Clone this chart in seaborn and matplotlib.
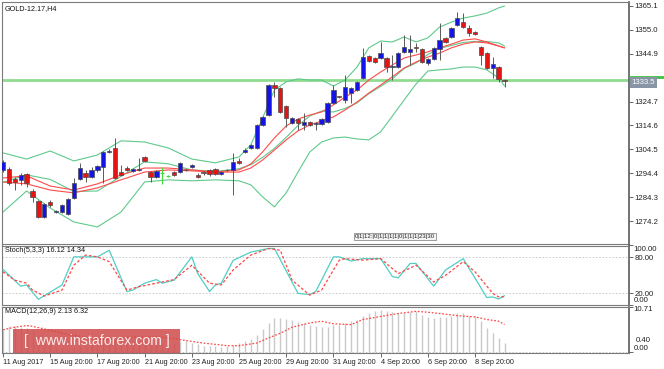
import matplotlib
matplotlib.use("Agg")
import matplotlib.pyplot as plt
import matplotlib.transforms as mtransforms
from matplotlib.patches import Rectangle
import numpy as np
import seaborn as sns

W, H = 664, 369

# H4 candles, bar index 0..85
opens = [1295.8, 1296.2, 1292.0, 1291.6, 1294.1, 1286.9, 1282.7, 1275.9, 1282.3, 1278.0,
         1278.0, 1277.2, 1284.0, 1292.0, 1294.5, 1292.8, 1295.8, 1297.1, 1303.4, 1305.1,
         1295.0, 1296.6, 1295.4, 1295.8, 1301.3, 1295.0, 1292.8, 1294.5, 1293.3, 1295.0,
         1295.0, 1295.8, 1297.1, 1293.7, 1295.0, 1295.8, 1296.2, 1294.1, 1295.6, 1295.8,
         1299.6, 1303.4, 1305.1, 1305.1, 1314.8, 1319.0, 1331.7, 1330.5, 1322.8, 1315.7,
         1317.4, 1314.8, 1316.1, 1315.2, 1315.2, 1316.1, 1324.1, 1326.9, 1325.4, 1328.3,
         1329.6, 1334.7, 1344.0, 1343.1, 1343.1, 1343.1, 1339.3, 1339.3, 1345.7, 1345.7,
         1347.8, 1346.9, 1341.0, 1342.7, 1346.9, 1351.6, 1352.0, 1357.1, 1358.3, 1355.8,
         1354.1, 1347.8, 1345.2, 1338.9, 1339.3, 1333.8]
highs = [1300.0, 1297.1, 1292.8, 1294.5, 1294.5, 1287.8, 1283.1, 1281.9, 1283.1, 1278.9,
         1281.4, 1284.0, 1292.4, 1298.8, 1295.8, 1297.1, 1297.9, 1303.8, 1304.7, 1309.3,
         1297.9, 1297.5, 1296.6, 1300.9, 1301.7, 1295.4, 1295.8, 1297.1, 1293.7, 1295.4,
         1299.2, 1296.2, 1298.3, 1294.5, 1295.4, 1296.2, 1296.6, 1295.4, 1296.2, 1303.0,
         1300.9, 1305.1, 1306.8, 1315.2, 1318.6, 1332.1, 1333.0, 1330.9, 1323.3, 1318.2,
         1317.8, 1319.9, 1316.5, 1316.1, 1317.8, 1324.5, 1331.7, 1327.1, 1335.9, 1330.9,
         1333.4, 1347.4, 1344.4, 1343.5, 1349.9, 1343.5, 1344.4, 1345.7, 1352.8, 1352.8,
         1349.5, 1347.4, 1343.1, 1347.8, 1357.9, 1352.0, 1356.2, 1362.6, 1362.1, 1357.1,
         1354.5, 1348.2, 1345.7, 1343.5, 1339.7, 1334.3]
lows = [1295.0, 1289.5, 1287.3, 1289.5, 1288.6, 1282.3, 1275.5, 1275.5, 1280.2, 1277.6,
        1277.6, 1276.8, 1283.5, 1291.6, 1290.7, 1292.4, 1295.0, 1290.3, 1303.0, 1292.0,
        1293.3, 1295.4, 1295.0, 1295.4, 1299.2, 1290.7, 1292.4, 1289.9, 1292.8, 1293.3,
        1294.5, 1295.4, 1296.6, 1292.4, 1293.7, 1293.3, 1293.7, 1293.7, 1295.4, 1285.2,
        1298.3, 1303.0, 1304.7, 1304.7, 1314.4, 1318.6, 1326.6, 1319.9, 1314.0, 1315.2,
        1312.7, 1312.7, 1314.4, 1312.7, 1314.8, 1315.7, 1323.7, 1326.2, 1324.1, 1324.1,
        1329.2, 1334.3, 1341.4, 1341.0, 1342.7, 1337.2, 1333.8, 1338.9, 1345.2, 1340.2,
        1345.7, 1341.0, 1340.2, 1342.3, 1342.3, 1349.5, 1351.6, 1356.6, 1355.8, 1352.4,
        1352.8, 1340.2, 1338.5, 1334.7, 1333.0, 1330.9]
closes = [1299.2, 1290.3, 1290.7, 1293.7, 1290.3, 1284.4, 1275.9, 1281.4, 1281.0, 1278.5,
          1281.0, 1283.5, 1290.3, 1296.6, 1292.8, 1295.8, 1297.5, 1303.4, 1303.8, 1292.4,
          1293.7, 1295.8, 1296.2, 1296.0, 1299.6, 1292.8, 1295.4, 1294.5, 1293.3, 1293.7,
          1298.8, 1295.6, 1297.9, 1292.8, 1294.5, 1294.1, 1294.1, 1295.0, 1295.8, 1299.2,
          1298.8, 1304.2, 1306.4, 1314.8, 1318.2, 1331.7, 1330.5, 1320.3, 1317.8, 1317.8,
          1315.7, 1316.1, 1314.8, 1315.4, 1317.4, 1324.1, 1329.6, 1326.6, 1330.9, 1330.5,
          1333.0, 1343.5, 1341.9, 1341.4, 1345.2, 1339.3, 1339.7, 1345.2, 1347.8, 1346.9,
          1347.4, 1341.4, 1342.7, 1347.4, 1350.7, 1349.9, 1355.8, 1360.0, 1356.2, 1353.7,
          1353.3, 1344.4, 1338.9, 1340.6, 1334.3, 1333.5]

# Bollinger bands and moving averages, read at these bars
line_idx = [0, 4, 8, 12, 16, 20, 24, 28, 32, 36, 40, 42, 44, 46, 48, 50, 52, 54, 56, 58,
            60, 62, 64, 66, 68, 70, 72, 74, 76, 78, 80, 82, 84, 85]
bb_upper = [1303.0, 1300.4, 1303.8, 1299.6, 1302.1, 1308.1, 1307.6, 1305.1, 1300.4, 1298.8,
            1301.3, 1306.4, 1317.8, 1329.6, 1333.0, 1334.3, 1333.8, 1333.8, 1331.3, 1333.8,
            1339.3, 1347.4, 1350.3, 1349.9, 1352.0, 1349.9, 1351.6, 1356.2, 1358.3, 1360.0,
            1360.9, 1362.1, 1364.3, 1365.1]
bb_middle = [1290.5, 1293.7, 1291.8, 1286.7, 1286.9, 1293.1, 1299.2, 1298.4, 1295.8, 1295.2,
             1296.3, 1298.0, 1301.1, 1304.9, 1309.6, 1314.6, 1318.6, 1320.7, 1320.3, 1321.8,
             1324.1, 1328.0, 1331.1, 1334.3, 1338.7, 1341.0, 1344.6, 1347.2, 1348.4, 1349.7,
             1350.1, 1350.1, 1349.5, 1348.2]
bb_lower = [1278.0, 1286.9, 1279.7, 1273.8, 1271.7, 1278.0, 1290.7, 1291.6, 1291.2, 1291.6,
            1291.2, 1289.5, 1284.4, 1280.2, 1286.1, 1294.9, 1303.4, 1307.6, 1309.3, 1309.7,
            1308.9, 1308.5, 1311.9, 1318.6, 1325.4, 1332.1, 1337.6, 1338.1, 1338.5, 1339.3,
            1339.3, 1338.1, 1334.7, 1331.3]
ma_fast = [1292.4, 1293.3, 1289.0, 1287.3, 1289.9, 1293.7, 1296.6, 1296.6, 1295.8, 1294.9,
           1295.8, 1298.3, 1303.4, 1309.3, 1314.4, 1317.3, 1319.0, 1320.3, 1323.3, 1326.6,
           1329.6, 1333.8, 1337.2, 1340.2, 1343.1, 1344.4, 1345.7, 1347.4, 1349.0, 1350.7,
           1351.2, 1349.9, 1348.2, 1347.4]
ma_slow = [1290.7, 1289.9, 1287.3, 1286.1, 1288.2, 1291.6, 1294.9, 1295.8, 1295.4, 1294.9,
           1294.9, 1296.6, 1300.0, 1304.2, 1308.5, 1312.3, 1314.8, 1316.5, 1318.2, 1321.2,
           1324.5, 1328.3, 1331.7, 1335.2, 1338.9, 1341.4, 1343.5, 1345.2, 1347.4, 1349.0,
           1349.9, 1349.5, 1348.2, 1347.4]

level_price = 1333.8
last_label = "1333.5"
price_ticks = [1365.1, 1355.0, 1344.9, 1324.7, 1314.6, 1304.5, 1294.4, 1284.3, 1274.2]

# Stochastic(5,3,3)
stoch_idx = [0, 3, 4, 6, 10, 12, 14, 16, 18, 21, 22, 24, 26, 27, 29, 32, 33, 35, 36, 37,
             39, 42, 45, 46, 50, 52, 53, 56, 57, 59, 61, 64, 66, 67, 69, 70, 73, 75, 78, 82,
             83, 84, 85]
stoch_main = [60, 32, 34, 10, 34, 81, 81, 81, 92, 23, 25.5, 37, 43, 37, 42, 81, 53, 23, 34, 37,
              75, 89, 95, 95, 20, 18, 23, 81, 81, 74, 78, 78, 48, 46, 70, 70, 32, 59, 78, 13,
              14, 10.5, 16.12]
stoch_sig_idx = [0, 2, 4, 5, 7, 10, 12, 14, 16, 18, 21, 23, 27, 29, 32, 35, 37, 39, 42, 45,
                 47, 49, 52, 54, 56, 57, 58, 61, 64, 67, 70, 73, 75, 78, 80, 83, 84, 85]
stoch_sig = [56, 42, 37, 25.5, 15.5, 25.5, 67, 84, 81, 73, 25.5, 31, 39, 43, 67, 37, 34, 59, 84, 95,
             92, 42, 17, 25.5, 59, 75.5, 78, 75.5, 78, 53, 67, 39, 50, 73, 56, 20, 14, 14.34]

# MACD(12,26,9)
macd_hist = [5.0, 6.1, 6.1, 5.8, 5.5, 4.8, 3.6, 2.6, 1.9, 1.2,
             0.8, 0.5, 0.8, 1.4, 1.8, 2.2, 2.5, 3.0, 3.3, 3.0,
             2.7, 2.5, 2.4, 2.4, 2.6, 2.3, 2.1, 1.9, 1.8, 2.0,
             2.6, 2.5, 2.1, 1.7, 1.4, 1.4, 1.3, 1.2, 1.4, 1.6,
             2.0, 2.4, 3.0, 4.0, 5.3, 6.7, 7.8, 7.8, 7.7, 7.4,
             7.0, 6.6, 6.2, 6.0, 5.8, 5.8, 6.3, 6.3, 6.7, 7.1,
             7.5, 8.2, 8.9, 9.4, 9.6, 9.4, 9.2, 9.0, 8.9, 9.2,
             9.4, 8.6, 8.1, 7.8, 8.0, 8.1, 8.4, 8.9, 8.9, 8.4,
             8.2, 7.1, 5.5, 4.3, 3.2, 2.13]
macd_sig_idx = [0, 2, 4, 5, 7, 11, 17, 22, 27, 30, 34, 38, 40, 43, 45, 47, 49, 52, 54, 56,
                59, 61, 64, 67, 70, 72, 74, 77, 80, 82, 84, 85]
macd_sig = [5.1, 5.7, 6.1, 5.9, 5.3, 4.0, 2.8, 3.4, 3.4, 2.8, 2.0, 1.4, 1.4, 2.0, 3.2, 4.3,
            5.7, 6.7, 7.1, 6.5, 6.3, 7.5, 8.2, 8.9, 9.4, 9.2, 8.9, 8.4, 8.1, 7.5, 7.1, 6.32]

date_ticks = [0, 8, 16, 24, 32, 40, 48, 56, 64, 72, 80]
date_labels = ["11 Aug 2017", "15 Aug 20:00", "17 Aug 20:00", "21 Aug 20:00", "23 Aug 20:00",
               "25 Aug 20:00", "29 Aug 20:00", "31 Aug 20:00", "4 Sep 20:00", "6 Sep 20:00",
               "8 Sep 20:00"]

sns.set_style("white")
plt.rcParams["font.family"] = ["Liberation Sans", "DejaVu Sans"]

fig = plt.figure(figsize=(W / 100, H / 100), dpi=100)
fig.patch.set_facecolor("white")


def px_axes(x0, y0, x1, y1):
    return fig.add_axes([x0 / W, 1 - y1 / H, (x1 - x0) / W, (y1 - y0) / H])


ax = px_axes(2, 1.5, 629, 243.5)
ax_st = px_axes(2, 245.5, 629, 305)
ax_md = px_axes(2, 306.5, 629, 352.5)

AXIS_FS = 5.6
for a in (ax, ax_st, ax_md):
    a.set_xlim(-0.17, 106.1)
    a.set_facecolor("white")
    a.yaxis.tick_right()
    a.tick_params(axis="y", left=False, right=True, length=3, width=0.7, color="#666666",
                  pad=1.2, labelsize=AXIS_FS, labelcolor="#222222", direction="out")
    a.tick_params(axis="x", bottom=False, labelbottom=False)
    for s in a.spines.values():
        s.set_color("#7a7a7a")
        s.set_linewidth(0.8)
    a.spines["right"].set_color("#5a5a5a")
    a.spines["right"].set_linewidth(1.2)

# ---- main price panel ----
ax.set_ylim(1264.7, 1367.0)
o = np.array(opens)
h = np.array(highs)
l = np.array(lows)
c = np.array(closes)
idx = np.arange(len(o))
up = c > o
down = c < o
flat = c == o
body_lo = np.minimum(o, c)
body_h = np.maximum(np.abs(c - o), 0.35)

ax.vlines(idx[~flat], l[~flat], h[~flat], color="#5a5a5a", lw=0.7, zorder=3)
ax.bar(idx[up], body_h[up], bottom=body_lo[up], width=0.72, color="#1414e6",
       edgecolor="#4a4a4a", linewidth=0.5, zorder=4)
ax.bar(idx[down], body_h[down], bottom=body_lo[down], width=0.72, color="#e81414",
       edgecolor="#4a4a4a", linewidth=0.5, zorder=4)
ax.vlines(idx[flat], l[flat], h[flat], color="#3ddc3d", lw=0.8, zorder=4)
ax.hlines(o[flat], idx[flat] - 0.35, idx[flat] + 0.35, color="#3ddc3d", lw=0.8, zorder=4)

band_col = "#5fc98c"
for vals in (bb_upper, bb_middle, bb_lower):
    sns.lineplot(x=line_idx, y=vals, ax=ax, color=band_col, linewidth=0.8, zorder=2)
for vals in (ma_fast, ma_slow):
    sns.lineplot(x=line_idx, y=vals, ax=ax, color="#ff4a4a", linewidth=0.8, zorder=2)

ax.axhline(level_price, color="#8fdc8f", linewidth=2.0, zorder=1)

ax.set_yticks(price_ticks)
ax.set_yticklabels([f"{p:.1f}" for p in price_ticks])

blend = mtransforms.blended_transform_factory(ax.transAxes, ax.transData)
# green marker of the horizontal level on the price scale (mostly hidden behind the last price)
ax.plot([1.0, 1.06], [level_price + 1.1, level_price + 1.1], transform=blend,
        color="#3cc43c", linewidth=2.0, clip_on=False, zorder=5, solid_capstyle="butt")
ax.annotate(last_label, xy=(1.0, float(closes[-1])), xycoords=blend, xytext=(2.0, -1.3),
            textcoords="offset points", fontsize=AXIS_FS, color="white", va="center",
            ha="left", annotation_clip=False, zorder=6,
            bbox=dict(boxstyle="square,pad=0.25", fc="#8795a6", ec="none"))

ax.text(0.004, 0.985, "GOLD-12.17,H4", transform=ax.transAxes, fontsize=5.2,
        color="#111111", va="top", ha="left")
ax.text(59.6, 1266.6, "0|1|12:|0|1|1|1|1|0|1|1|1|23|30",
        fontsize=4.3, color="#222222", va="bottom", ha="left",
        bbox=dict(boxstyle="square,pad=0.15", fc="#f4f4f4", ec="#777777", lw=0.5))

# ---- stochastic panel ----
ax_st.set_ylim(0.5, 100.0)
for lv in (80, 20):
    ax_st.axhline(lv, color="#c4c4c4", linewidth=0.6, linestyle=(0, (2, 2)), zorder=1)
sns.lineplot(x=stoch_idx, y=stoch_main, ax=ax_st, color="#4fcfc4", linewidth=0.9, zorder=3)
sns.lineplot(x=stoch_sig_idx, y=stoch_sig, ax=ax_st, color="#ff4646", linewidth=0.9,
             linestyle=(0, (2.2, 1.6)), zorder=3)
ax_st.set_yticks([100, 80, 20, 0.5])
ax_st.set_yticklabels(["", "80.00", "20.00", ""])
bst = mtransforms.blended_transform_factory(ax_st.transAxes, ax_st.transData)
ax_st.text(1.0075, 99.0, "100.00", transform=bst, fontsize=AXIS_FS, color="#222222",
           va="top", ha="left", clip_on=False)
ax_st.text(1.0075, 2.0, "0.00", transform=bst, fontsize=AXIS_FS, color="#222222",
           va="bottom", ha="left", clip_on=False)
ax_st.text(0.004, 0.97, "Stoch(5,3,3) 16.12 14.34", transform=ax_st.transAxes, fontsize=5.2,
           color="#111111", va="top", ha="left")

# ---- MACD panel ----
ax_md.set_ylim(-0.19, 10.53)
ax_md.vlines(idx, 0, macd_hist, color="#c9c9c9", linewidth=1.0, zorder=2)
ax_md.axhline(0, color="#c4c4c4", linewidth=0.6, linestyle=(0, (2, 2)), zorder=1)
sns.lineplot(x=macd_sig_idx, y=macd_sig, ax=ax_md, color="#ff4646", linewidth=0.9,
             linestyle=(0, (1.4, 1.4)), zorder=3)
ax_md.set_yticks([10.53, 0])
ax_md.set_yticklabels(["", ""])
bmd = mtransforms.blended_transform_factory(ax_md.transAxes, ax_md.transData)
ax_md.text(1.0075, 10.6, "10.71", transform=bmd, fontsize=AXIS_FS, color="#222222",
           va="top", ha="left", clip_on=False)
ax_md.text(1.0075, -0.15, "0.00", transform=bmd, fontsize=AXIS_FS, color="#222222",
           va="bottom", ha="left", clip_on=False)
ax_md.text(1.011, 1.75, "0.40", transform=bmd, fontsize=AXIS_FS, color="#222222",
           va="bottom", ha="left", clip_on=False)
ax_md.text(0.004, 0.97, "MACD(12,26,9) 2.13 6.32", transform=ax_md.transAxes, fontsize=5.2,
           color="#111111", va="top", ha="left")

ax_md.set_xticks(date_ticks)
ax_md.set_xticklabels(date_labels, ha="left")
ax_md.tick_params(axis="x", bottom=True, labelbottom=True, length=3, width=0.7,
                  color="#666666", pad=1.5, labelsize=5.2, labelcolor="#222222")

# watermark
wm = Rectangle((13 / W, 1 - 352.5 / H), 167 / W, 23.5 / H, transform=fig.transFigure,
               facecolor="#cf4a4a", edgecolor="none", alpha=0.85, zorder=10)
fig.patches.append(wm)
fig.text(96.5 / W, 1 - 340.5 / H, "[  www.instaforex.com ]", fontsize=10.2, color="#fbecec",
         ha="center", va="center", zorder=11)

fig.savefig("out.png", dpi=100, facecolor="white")
